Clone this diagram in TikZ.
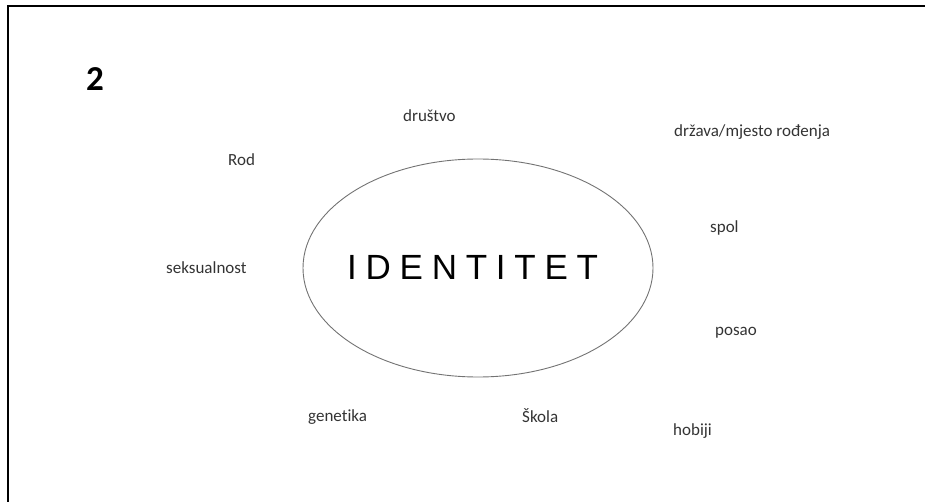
\documentclass[tikz,border=0pt]{standalone}
\usepackage{fontspec}
\setmainfont{Carlito}[Ligatures=NoCommon]
\newfontfamily\identfont[LetterSpace=25]{Liberation Sans}
\usetikzlibrary{shapes.geometric}
\begin{document}
\begin{tikzpicture}[x=1pt,y=-1pt,
  lbl/.style={anchor=west,inner sep=0pt,font=\fontsize{17}{20}\selectfont,text=black!80},
  frame/.style={line width=2pt,black},
  oval/.style={draw=black!55,line width=0.9pt,shape=ellipse,minimum width=350pt,minimum height=218pt,inner sep=0pt}]
\useasboundingbox (0,0) rectangle (925,502);
\coordinate (tr) at (925,6.5);
\coordinate (tl) at (7.5,6.5);
\coordinate (bl) at (7.5,502);
\draw[frame] (tr) -- (tl) -- (bl);
\node[inner sep=0pt,font=\fontsize{35}{40}\selectfont\bfseries] (num) at (95,79) {2};
\node[oval] (ident) at (478,268) {};
\node[anchor=west,inner sep=0pt,font=\identfont\fontsize{35}{40}\selectfont] (identtext) at (347,267.5) {IDENTITET};
\node[lbl] (drustvo) at (403,116) {društvo};
\node[lbl] (rod) at (228,160) {Rod};
\node[lbl] (seks) at (166,268) {seksualnost};
\node[lbl] (drzava) at (674,132) {država/mjesto rođenja};
\node[lbl] (spol) at (710,228) {spol};
\node[lbl] (posao) at (715,333) {posao};
\node[lbl] (genetika) at (308,417) {genetika};
\node[lbl] (skola) at (522,416) {Škola};
\node[lbl] (hobiji) at (673,431) {hobiji};
\end{tikzpicture}
\end{document}
